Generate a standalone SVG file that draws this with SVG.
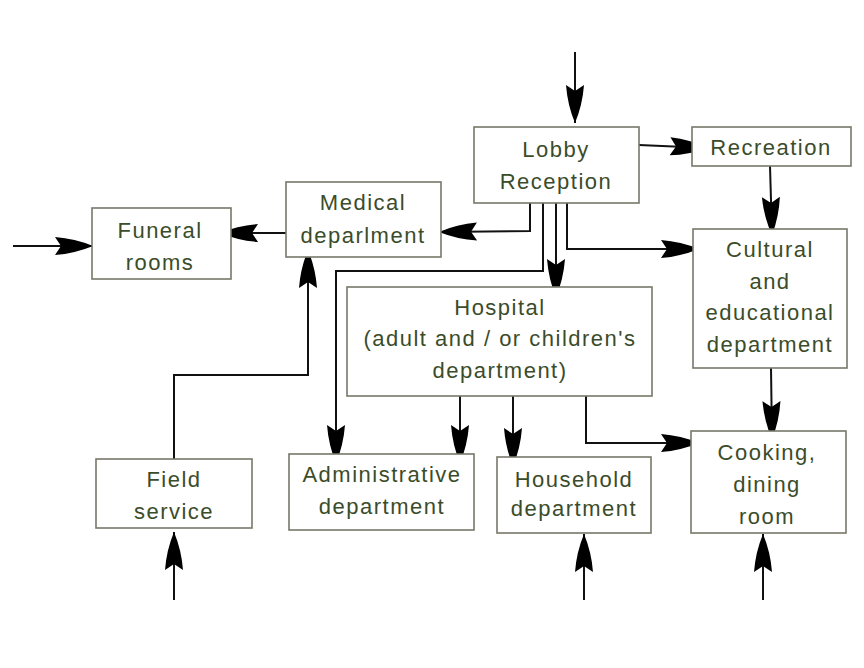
<svg xmlns="http://www.w3.org/2000/svg" width="864" height="668" viewBox="0 0 864 668">
<defs>
<style>
.box{fill:#fff;stroke:#77776a;stroke-width:1.6}
.t{font-family:"Liberation Sans",Arial,sans-serif;font-size:22px;fill:#3b4c2a;text-anchor:middle;letter-spacing:1.5px}
.c{fill:none;stroke:#111;stroke-width:2}
</style>
<marker id="ah" markerUnits="userSpaceOnUse" markerWidth="46" markerHeight="22" viewBox="-42 -11 46 22" refX="0" refY="0" orient="auto" overflow="visible">
<path d="M0,0 Q-18,-7.5 -38,-9 L-32,0 L-38,9 Q-18,7.5 0,0 Z" fill="#000"/>
</marker>
</defs>
<rect width="864" height="668" fill="#fff"/>
<g id="connectors">
<path class="c" d="M575,52 L575,123" marker-end="url(#ah)"/>
<path class="c" d="M639,145 L708,148" marker-end="url(#ah)"/>
<path class="c" d="M770,166 L772,235" marker-end="url(#ah)"/>
<path class="c" d="M530,203 L530,231 L439,232" marker-end="url(#ah)"/>
<path class="c" d="M543,203 L543,271 L336,271 L336,463" marker-end="url(#ah)"/>
<path class="c" d="M556,203 L556,297" marker-end="url(#ah)"/>
<path class="c" d="M567,203 L567,249 L699,249" marker-end="url(#ah)"/>
<path class="c" d="M286,233 L220,233" marker-end="url(#ah)"/>
<path class="c" d="M13,246 L93,246" marker-end="url(#ah)"/>
<path class="c" d="M174,459 L174,375 L308,375 L308,250" marker-end="url(#ah)"/>
<path class="c" d="M460,396 L460,463" marker-end="url(#ah)"/>
<path class="c" d="M513,396 L513,466" marker-end="url(#ah)"/>
<path class="c" d="M586,396 L586,443 L699,443" marker-end="url(#ah)"/>
<path class="c" d="M771,368 L772,439" marker-end="url(#ah)"/>
<path class="c" d="M174,600 L174,532" marker-end="url(#ah)"/>
<path class="c" d="M584,600 L584,534" marker-end="url(#ah)"/>
<path class="c" d="M763,600 L763,534" marker-end="url(#ah)"/>
</g>
<g id="lobby"><rect class="box" x="474" y="127" width="165" height="76"/><text class="t" x="556" y="157">Lobby</text><text class="t" x="556" y="189">Reception</text></g>
<g id="recreation"><rect class="box" x="692" y="127" width="159" height="39"/><text class="t" x="771" y="155">Recreation</text></g>
<g id="cultural"><rect class="box" x="693" y="229" width="154" height="139"/><text class="t" x="770" y="257">Cultural</text><text class="t" x="770" y="289">and</text><text class="t" x="770" y="320">educational</text><text class="t" x="770" y="352">department</text></g>
<g id="medical"><rect class="box" x="286" y="182" width="155" height="75"/><text class="t" x="363" y="210">Medical</text><text class="t" x="363" y="243">deparlment</text></g>
<g id="funeral"><rect class="box" x="92" y="208" width="139" height="71"/><text class="t" x="160" y="238">Funeral</text><text class="t" x="160" y="270">rooms</text></g>
<g id="hospital"><rect class="box" x="347" y="287" width="305" height="109"/><text class="t" x="500" y="315">Hospital</text><text class="t" x="500" y="346">(adult and / or children's</text><text class="t" x="500" y="378">department)</text></g>
<g id="field"><rect class="box" x="96" y="459" width="156" height="69"/><text class="t" x="174" y="487">Field</text><text class="t" x="174" y="519">service</text></g>
<g id="administrative"><rect class="box" x="289" y="454" width="185" height="76"/><text class="t" x="382" y="482">Administrative</text><text class="t" x="382" y="514">department</text></g>
<g id="household"><rect class="box" x="497" y="457" width="154" height="76"/><text class="t" x="574" y="487">Household</text><text class="t" x="574" y="516">department</text></g>
<g id="cooking"><rect class="box" x="691" y="431" width="155" height="102"/><text class="t" x="767" y="460">Cooking,</text><text class="t" x="767" y="492">dining</text><text class="t" x="767" y="524">room</text></g>
</svg>
